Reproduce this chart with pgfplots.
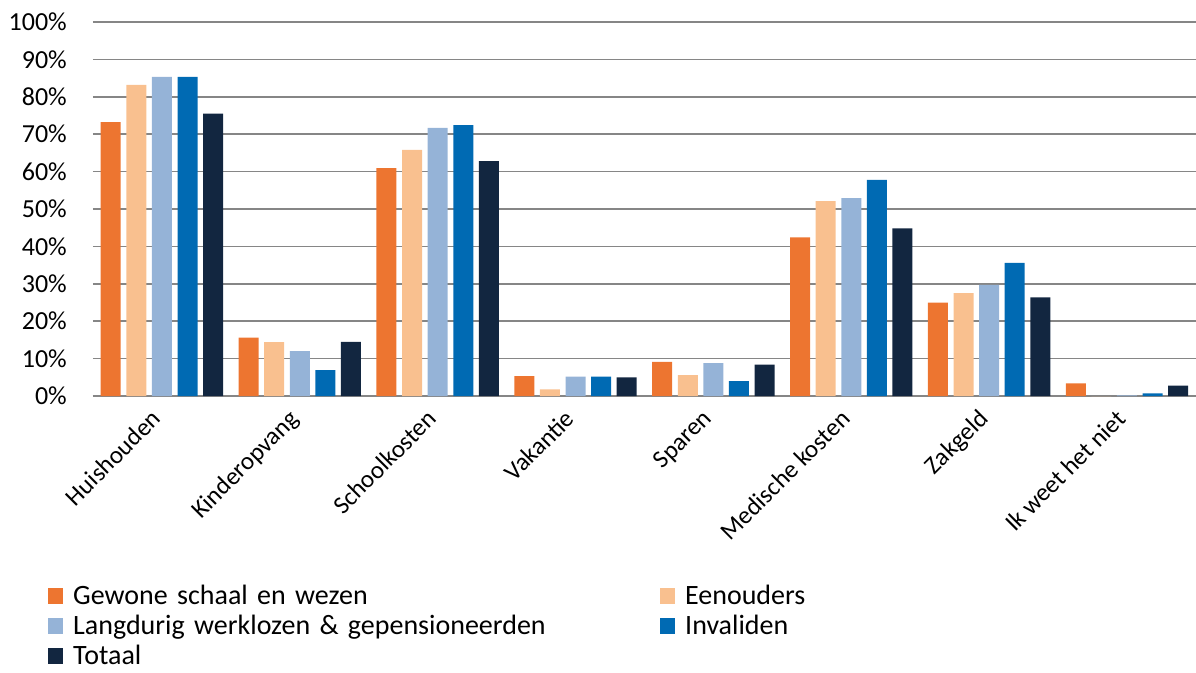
\documentclass[border=0pt]{standalone}
\usepackage{pgfplots}
\pgfplotsset{compat=1.18}
\usepackage{fontspec}
\setmainfont{Carlito}
\definecolor{cOr}{RGB}{237,117,48}
\definecolor{cPe}{RGB}{249,192,143}
\definecolor{cLb}{RGB}{149,179,215}
\definecolor{cBl}{RGB}{0,106,179}
\definecolor{cNv}{RGB}{18,38,64}
\definecolor{cGr}{RGB}{134,134,134}
\begin{document}
\begin{tikzpicture}
\useasboundingbox (-93pt,-276pt) rectangle (1103pt,396pt);
\begin{axis}[
  at={(0,0)}, anchor=south west,
  scale only axis, width=1103pt, height=374pt,
  ybar=5.6pt, bar width=20pt,
  xmin=-0.5, xmax=7.5, ymin=0, ymax=100,
  xtick={0,...,7},
  xticklabels={Huishouden,Kinderopvang,Schoolkosten,Vakantie,Sparen,Medische kosten,Zakgeld,Ik weet het niet},
  ytick={0,10,...,100},
  yticklabels={0\%,10\%,20\%,30\%,40\%,50\%,60\%,70\%,80\%,90\%,100\%},
  major tick length=0pt,
  axis x line*=bottom, axis y line*=left,
  x axis line style={cGr, line width=1.6pt, -},
  y axis line style={draw=none},
  ymajorgrids, grid style={cGr, line width=1.6pt},
  tick label style={font=\fontsize{26}{30}\selectfont, text=black},
  yticklabel style={anchor=east, inner sep=0pt, xshift=-26pt},
  xticklabel style={inner sep=0pt, xshift=-12pt, yshift=-12pt, rotate=45, anchor=north east, font=\fontsize{25}{30}\selectfont},
  legend columns=2,
  legend cell align=left,
  legend image code/.code={\fill[#1] (0pt,-8pt) rectangle (15pt,8pt);},
  legend style={at={(-45pt,-189pt)}, anchor=north west, draw=none, fill=none,
    column sep=10pt, row sep=8pt, inner sep=0pt,
    font=\fontsize{28}{32}\selectfont,
    nodes={inner sep=0pt, text width=577pt, align=left, text height=19pt, text depth=3pt}},
]
\addplot[fill=cOr, draw=none] coordinates {(0,73.2) (1,15.6) (2,60.9) (3,5.3) (4,9.1) (5,42.4) (6,25.0) (7,3.4)};
\addplot[fill=cPe, draw=none] coordinates {(0,83.2) (1,14.4) (2,65.8) (3,1.8) (4,5.6) (5,52.1) (6,27.5) (7,0)};
\addplot[fill=cLb, draw=none] coordinates {(0,85.3) (1,12.0) (2,71.7) (3,5.2) (4,8.8) (5,52.9) (6,29.7) (7,0.2)};
\addplot[fill=cBl, draw=none] coordinates {(0,85.3) (1,6.9) (2,72.4) (3,5.2) (4,4.0) (5,57.8) (6,35.6) (7,0.7)};
\addplot[fill=cNv, draw=none] coordinates {(0,75.5) (1,14.5) (2,62.8) (3,5.0) (4,8.4) (5,44.8) (6,26.4) (7,2.8)};
\legend{Gewone schaal en wezen, Eenouders, Langdurig werklozen \& gepensioneerden, Invaliden, Totaal}
\end{axis}
\end{tikzpicture}
\end{document}
